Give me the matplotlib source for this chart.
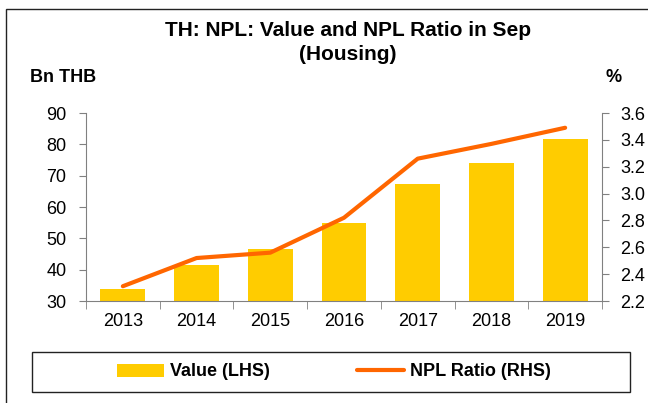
import numpy as np
import matplotlib
matplotlib.use("Agg")
import matplotlib.pyplot as plt
from matplotlib.patches import Rectangle
from matplotlib.ticker import FormatStrFormatter

plt.rcParams['font.family'] = ['Liberation Sans', 'DejaVu Sans']

# Data
years = ["2013", "2014", "2015", "2016", "2017", "2018", "2019"]
npl_value = [33.8, 41.5, 46.6, 55.0, 67.2, 74.0, 81.8]     # Bn THB (LHS)
npl_ratio = [2.31, 2.52, 2.56, 2.82, 3.26, 3.37, 3.49]     # % (RHS)

BAR_COLOR = "#FFCC00"
LINE_COLOR = "#FF6600"
AXIS_GREY = "#808080"

W, H = 648, 403
fig = plt.figure(figsize=(W / 100, H / 100), dpi=100)

# outer frame (left + top edges visible in reference)
fig.patches.append(Rectangle((6 / W, -0.1), 1.2, 1 - 9 / H + 0.1,
                             transform=fig.transFigure, fill=False,
                             edgecolor="#222222", linewidth=1.0))

left, right, bottom, top = 86, 602, 301, 113
ax = fig.add_axes([left / W, 1 - bottom / H, (right - left) / W, (bottom - top) / H])
ax2 = ax.twinx()

x = np.arange(len(years))
ax.bar(x, [v - 30 for v in npl_value], bottom=30, width=0.61, color=BAR_COLOR,
       label="Value (LHS)", zorder=2)
ax2.plot(x, npl_ratio, color=LINE_COLOR, linewidth=3.0, solid_capstyle="round",
         label="NPL Ratio (RHS)")

ax.set_xlim(-0.5, len(years) - 0.5)
ax.set_ylim(30, 90)
ax.set_yticks(range(30, 91, 10))
ax2.set_ylim(2.2, 3.6)
ax2.set_yticks(np.arange(2.2, 3.61, 0.2))
ax2.yaxis.set_major_formatter(FormatStrFormatter("%.1f"))

# category labels centered, tick marks between categories
ax.set_xticks(x)
ax.set_xticklabels(years)
ax.set_xticks(np.arange(-0.5, len(years), 1.0), minor=True)
ax.tick_params(axis="x", which="major", length=0, pad=9, labelsize=13)
ax.tick_params(axis="x", which="minor", length=6, color=AXIS_GREY, direction="out")
ax.tick_params(axis="y", length=5, color=AXIS_GREY, direction="out", pad=9, labelsize=13)
ax2.tick_params(axis="y", length=5, color=AXIS_GREY, direction="out", pad=8, labelsize=13)

for s in ["top", "right"]:
    ax.spines[s].set_visible(False)
for s in ["top", "left", "bottom"]:
    ax2.spines[s].set_visible(False)
ax.spines["left"].set_color(AXIS_GREY)
ax.spines["bottom"].set_color(AXIS_GREY)
ax2.spines["right"].set_color(AXIS_GREY)
ax.spines["bottom"].set_zorder(3)

fig.text(348 / W, 1 - 30 / H, "TH: NPL: Value and NPL Ratio in Sep", ha="center",
         va="center", fontsize=15, fontweight="bold")
fig.text(348 / W, 1 - 54 / H, "(Housing)", ha="center", va="center",
         fontsize=15, fontweight="bold")
fig.text(30 / W, 1 - 77 / H, "Bn THB", ha="left", va="center", fontsize=13, fontweight="bold")
fig.text(614 / W, 1 - 77 / H, "%", ha="center", va="center", fontsize=13, fontweight="bold")

# legend box
fig.patches.append(Rectangle((32 / W, 1 - 392 / H), (630 - 32) / W, 40 / H,
                             transform=fig.transFigure, fill=False,
                             edgecolor="#222222", linewidth=1.0))
h1, l1 = ax.get_legend_handles_labels()
h2, l2 = ax2.get_legend_handles_labels()
fig.legend(h1 + h2, l1 + l2, loc="center", bbox_to_anchor=(334 / W, 1 - 372 / H),
           ncol=2, frameon=False, prop={"size": 13, "weight": "bold"},
           handlelength=2.6, handletextpad=0.35, columnspacing=4.8)

fig.savefig("out.png", dpi=100)
